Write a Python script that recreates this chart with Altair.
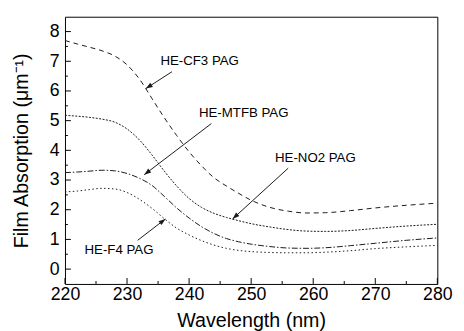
import math
import altair as alt
import pandas as pd

# ---------------- data ----------------
wavelength = [220, 222, 224, 226, 228, 230, 232, 234, 236, 238, 240, 242, 244,
              246, 248, 250, 253, 256, 259, 262, 266, 270, 275, 280]
cf3 = [7.70, 7.58, 7.47, 7.35, 7.18, 6.88, 6.40, 5.75, 5.10, 4.50, 3.95, 3.48, 3.08,
       2.80, 2.55, 2.32, 2.08, 1.95, 1.89, 1.90, 1.97, 2.06, 2.15, 2.22]
no2 = [5.18, 5.15, 5.11, 5.05, 4.95, 4.72, 4.35, 3.85, 3.30, 2.80, 2.38, 2.08, 1.88,
       1.74, 1.63, 1.53, 1.42, 1.33, 1.28, 1.27, 1.30, 1.37, 1.45, 1.51]
mtfb = [3.25, 3.27, 3.30, 3.33, 3.31, 3.22, 3.06, 2.82, 2.45, 2.06, 1.72, 1.43, 1.20,
        1.03, 0.92, 0.84, 0.76, 0.71, 0.70, 0.72, 0.79, 0.87, 0.97, 1.05]
f4 = [2.60, 2.63, 2.68, 2.72, 2.70, 2.58, 2.35, 2.05, 1.70, 1.38, 1.15, 0.96, 0.81,
      0.70, 0.63, 0.59, 0.56, 0.55, 0.55, 0.57, 0.62, 0.69, 0.75, 0.80]

label_text = ["HE-CF3 PAG", "HE-MTFB PAG", "HE-NO2 PAG", "HE-F4 PAG"]
label_x = [241.7, 248.8, 260.35, 228.7]
label_y = [6.99, 5.26, 3.74, 0.63]
arrow_x0 = [237.25, 243.58, 255.97, 231.71]
arrow_y0 = [6.65, 4.90, 3.40, 0.97]
arrow_x1 = [233.03, 232.77, 247.01, 236.19]
arrow_y1 = [6.08, 3.18, 1.69, 1.69]

x_ticks = [220, 230, 240, 250, 260, 270, 280]
x_minor = [225, 235, 245, 255, 265, 275]
y_ticks = [0, 1, 2, 3, 4, 5, 6, 7, 8]
y_minor = [0.5, 1.5, 2.5, 3.5, 4.5, 5.5, 6.5, 7.5]

# ---------------- layout ----------------
W, H = 379, 272
XD = [220, 280]
YD = [-0.5, 8.5]
FONT = "Liberation Sans"
INK = "#1a1a1a"

xs = alt.Scale(domain=XD, nice=False, zero=False)
ys = alt.Scale(domain=YD, nice=False, zero=False)

x_axis = alt.Axis(values=x_ticks, grid=False, domain=False, ticks=False, tickSize=0,
                  labelFontSize=18, labelPadding=2, labelFont=FONT, labelColor="black",
                  labelFlush=False, labelOverlap=False,
                  title="Wavelength (nm)", titleFont=FONT, titleFontSize=20,
                  titleFontWeight="normal", titleColor="black",
                  titleX=W / 2, titleY=37, titleBaseline="middle")
y_axis = alt.Axis(values=y_ticks, grid=False, domain=False, ticks=False, tickSize=0,
                  labelFontSize=18, labelPadding=6, labelFont=FONT, labelColor="black",
                  labelFlush=False, labelOverlap=False,
                  title="Film Absorption (\u03bcm\u207b\u00b9)", titleFont=FONT,
                  titleFontSize=20, titleFontWeight="normal", titleColor="black",
                  titleX=-44.5, titleY=H / 2, titleAngle=270, titleBaseline="middle")

def X(field):
    return alt.X(field, scale=xs, axis=x_axis, title="Wavelength (nm)")

def Y(field):
    return alt.Y(field, scale=ys, axis=y_axis, title="Film Absorption (\u03bcm\u207b\u00b9)")

curves = pd.DataFrame({"wl": wavelength, "cf3": cf3, "no2": no2, "mtfb": mtfb, "f4": f4})
base = alt.Chart(curves)

def curve(col, dash):
    return base.mark_line(strokeWidth=1, color=INK, strokeDash=dash,
                          interpolate="monotone").encode(x=X("wl:Q"), y=Y(f"{col}:Q"))

lines = [
    curve("cf3", [5, 4]),
    curve("no2", [2, 1.5]),
    curve("mtfb", [6, 2, 1.5, 2]),
    curve("f4", [1.5, 2.5]),
]

# inward ticks
xt = pd.DataFrame({"v": x_ticks})
xm = pd.DataFrame({"v": x_minor})
yt = pd.DataFrame({"v": y_ticks})
ym = pd.DataFrame({"v": y_minor})
tick_layers = [
    alt.Chart(xt).mark_rule(color="black", strokeWidth=1).encode(
        x=X("v:Q"), y=alt.value(H), y2=alt.value(H - 6)),
    alt.Chart(xm).mark_rule(color="black", strokeWidth=1).encode(
        x=X("v:Q"), y=alt.value(H), y2=alt.value(H - 3)),
    alt.Chart(yt).mark_rule(color="black", strokeWidth=1).encode(
        y=Y("v:Q"), x=alt.value(0), x2=alt.value(6)),
    alt.Chart(ym).mark_rule(color="black", strokeWidth=1).encode(
        y=Y("v:Q"), x=alt.value(0), x2=alt.value(3)),
]

# annotations
px_x = W / (XD[1] - XD[0])
px_y = H / (YD[1] - YD[0])
angles = []
for a, b, c, d in zip(arrow_x0, arrow_y0, arrow_x1, arrow_y1):
    dx = (c - a) * px_x
    dy = -(d - b) * px_y
    angles.append(math.degrees(math.atan2(dx, -dy)) % 360)

ann = pd.DataFrame({"t": label_text, "lx": label_x, "ly": label_y,
                    "x0": arrow_x0, "y0": arrow_y0, "x1": arrow_x1, "y1": arrow_y1,
                    "ang": angles})
abase = alt.Chart(ann)
ann_layers = [
    abase.mark_rule(color=INK, strokeWidth=1).encode(
        x=X("x0:Q"), y=Y("y0:Q"), x2="x1:Q", y2="y1:Q"),
    abase.mark_point(shape="M0,0L-0.36,1L0.36,1Z", filled=True, color=INK,
                     size=196, opacity=1, strokeWidth=0).encode(
        x=X("x1:Q"), y=Y("y1:Q"), angle=alt.Angle("ang:Q", scale=None)),
    abase.mark_text(font=FONT, fontSize=13.5, color="black", align="center",
                    baseline="middle").encode(
        x=X("lx:Q"), y=Y("ly:Q"), text="t:N"),
]

chart = alt.layer(*lines, *tick_layers, *ann_layers).properties(
    width=W, height=H,
    padding={"left": 58, "top": 6, "right": 19, "bottom": 45},
    autosize=alt.AutoSizeParams(type="none"),
    background="white",
).configure_view(stroke="black", strokeWidth=1)

chart.save("out.html", embed_options={"renderer": "svg", "actions": False})
